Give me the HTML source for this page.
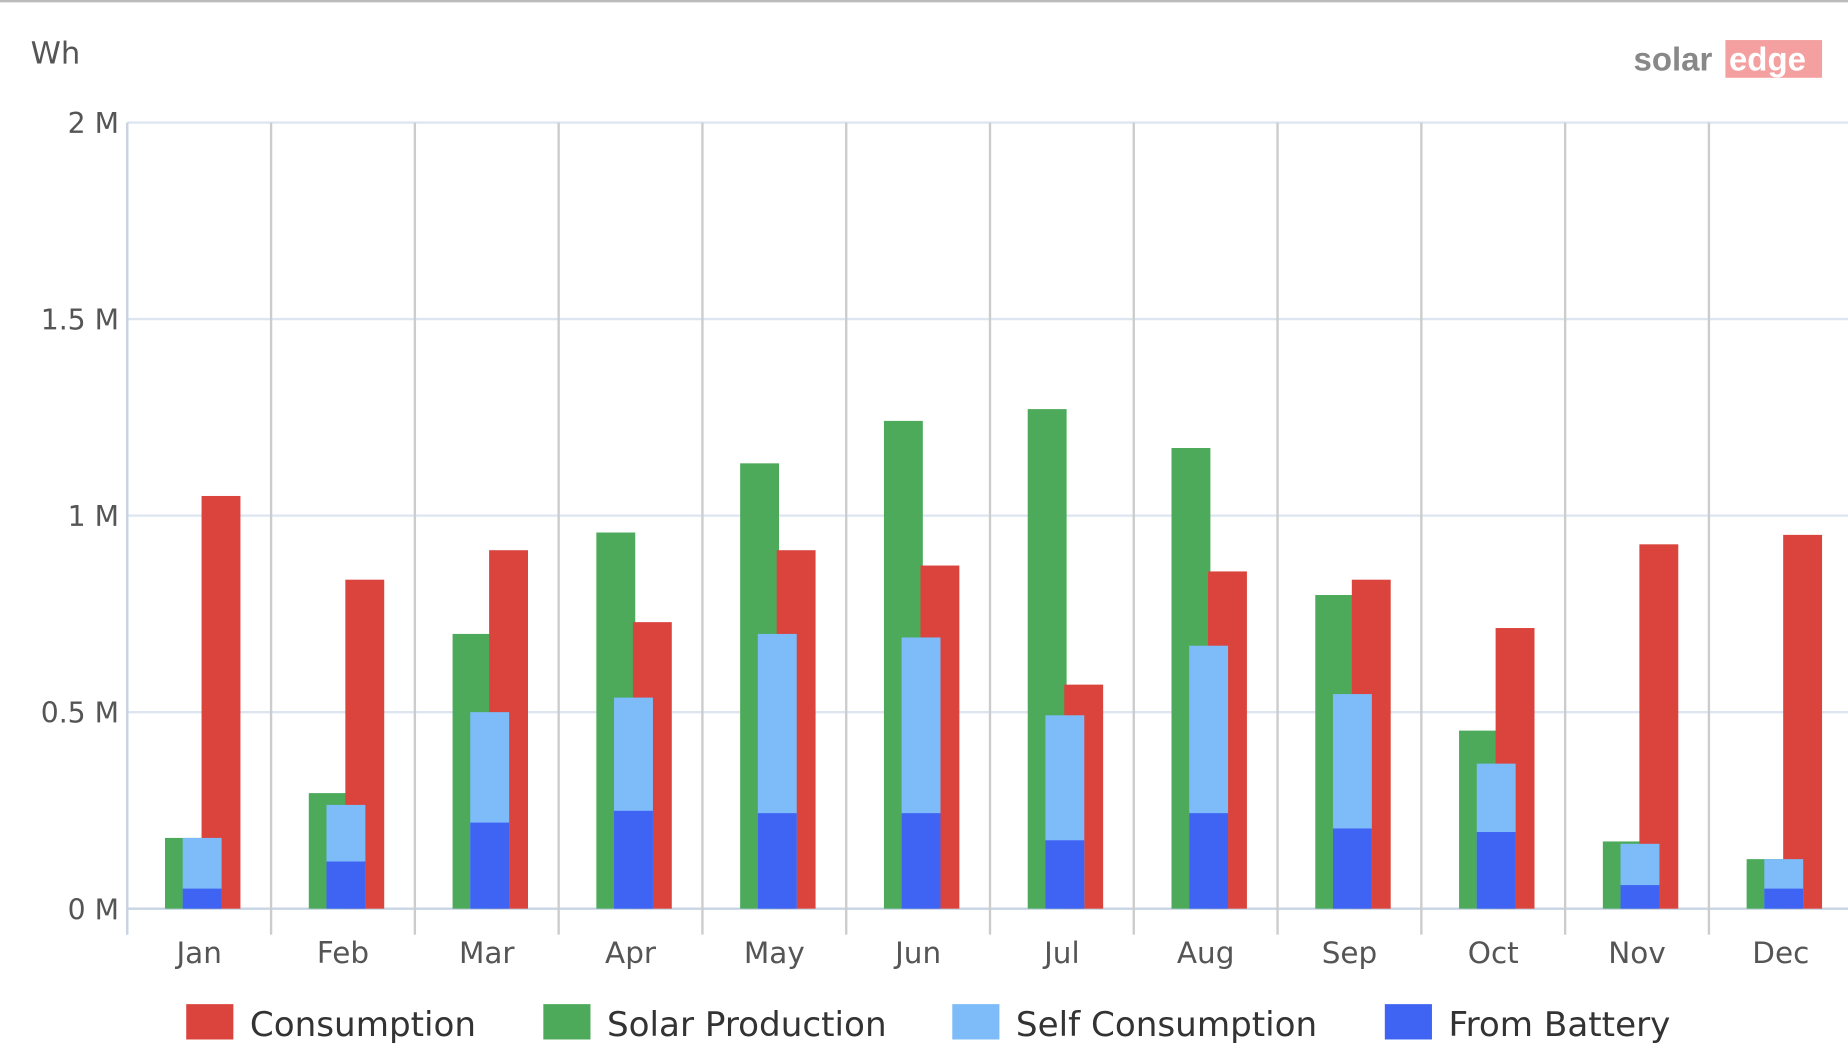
<!DOCTYPE html>
<html><head><meta charset="utf-8"><style>
html,body{margin:0;padding:0;background:#fff;}
svg{display:block;font-family:"DejaVu Sans","Liberation Sans",sans-serif;}
</style></head><body>
<svg id="chart" width="1848" height="1064" viewBox="0 0 1568 902.8" xmlns="http://www.w3.org/2000/svg">
<line x1="0" y1="1" x2="1568" y2="1" stroke="#bbb" stroke-width="2"/>
<text x="26" y="54" font-size="26" fill="#555">Wh</text>
<g>
<text x="1386" y="60" font-size="28" font-weight="bold" fill="#888" font-family="Liberation Sans, sans-serif">solar</text>
<rect x="1464" y="34" width="82" height="32" fill="#f4a0a0"/>
<text x="1467" y="60" font-size="28" font-weight="bold" fill="#fff" font-family="Liberation Sans, sans-serif">edge</text>
</g>
<g id="grid"></g><g id="bars"></g><g id="axes"></g>
<g id="legend"></g>
</svg>
<script>
const months=["Jan","Feb","Mar","Apr","May","Jun","Jul","Aug","Sep","Oct","Nov","Dec"];
const consumption=[1.05,0.837,0.912,0.729,0.912,0.873,0.570,0.858,0.837,0.714,0.927,0.951];
const solarProduction=[0.18,0.294,0.699,0.957,1.133,1.241,1.271,1.172,0.798,0.453,0.171,0.126];
const selfConsumption=[0.18,0.264,0.50,0.537,0.699,0.69,0.492,0.669,0.546,0.369,0.165,0.126];
const fromBattery=[0.051,0.12,0.219,0.249,0.243,0.243,0.174,0.243,0.204,0.195,0.06,0.051];
const yTicks=[0,0.5,1,1.5,2];
const yTickLabels=["0 M","0.5 M","1 M","1.5 M","2 M"];
const NS="http://www.w3.org/2000/svg";
const X0=108,BW=122,Y0=771,Y2=104;
const y=v=>Y0-(v/2)*(Y0-Y2);
const xb=i=>X0+i*BW;
function mk(tag,at,parent){const e=document.createElementNS(NS,tag);for(const k in at)e.setAttribute(k,at[k]);document.getElementById(parent).appendChild(e);return e;}
yTicks.forEach((t,i)=>{
 const l=mk('line',{x1:X0,x2:1568,y1:y(t),y2:y(t),stroke:i==0?'#c8d4e4':'#dde6f0','stroke-width':2},'grid');
 
 
 const tx=mk('text',{x:101,y:y(t)+9,'font-size':24,fill:'#555','text-anchor':'end'},'axes');
 tx.textContent=yTickLabels[i];
 
 
});
for(let i=0;i<=months.length;i++){
 const l=mk('line',{x1:xb(i),x2:xb(i),y1:Y2,y2:793,stroke:'#ccc','stroke-width':2},'grid');
 
 
}
mk('line',{x1:X0,x2:X0,y1:Y2,y2:793,stroke:'#c8d4e4','stroke-width':2},'axes');
months.forEach((m,i)=>{
 const b=xb(i);
 const g=mk('rect',{x:b+32,y:y(solarProduction[i]),width:33,height:Y0-y(solarProduction[i]),fill:'#4caa5a'},'bars');
 
 
 const r=mk('rect',{x:b+63,y:y(consumption[i]),width:33,height:Y0-y(consumption[i]),fill:'#db443d'},'bars');
 
 
 const s=mk('rect',{x:b+47,y:y(selfConsumption[i]),width:33,height:Y0-y(selfConsumption[i]),fill:'#7dbcf8'},'bars');
 
 
 const f=mk('rect',{x:b+47,y:y(fromBattery[i]),width:33,height:Y0-y(fromBattery[i]),fill:'#3f64f4'},'bars');
 
 
 const t=mk('text',{x:b+61,y:817,'font-size':25,fill:'#555','text-anchor':'middle'},'axes');
 t.textContent=m;
 
 
});
const legendNames=["Consumption","Solar Production","Self Consumption","From Battery"];
const legendColors=["#db443d","#4caa5a","#7dbcf8","#3f64f4"];
const legendX=[158,461,808,1175];
legendNames.forEach((n,i)=>{
 const r=mk('rect',{x:legendX[i],y:852,width:40,height:30,fill:legendColors[i]},'legend');
 
 
 const t=mk('text',{x:legendX[i]+54,y:879,'font-size':29,fill:'#333'},'legend');
 t.textContent=n;
 
 
});
</script>
</body></html>
